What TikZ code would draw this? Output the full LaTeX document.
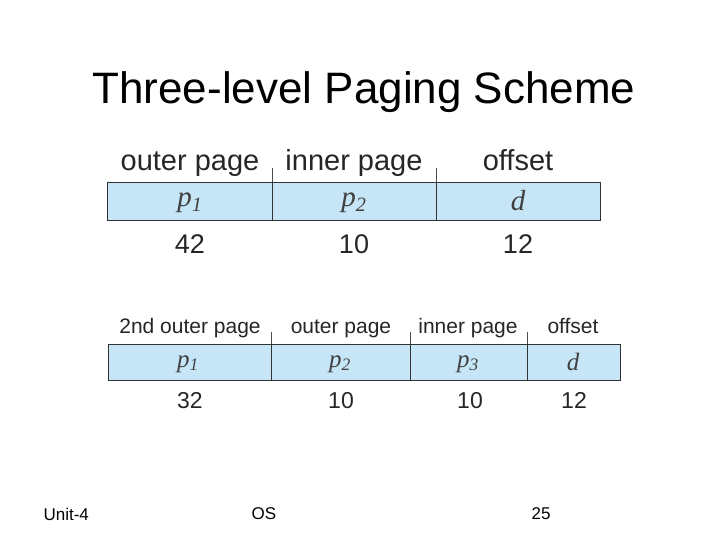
\documentclass[tikz,border=0pt]{standalone}
\usepackage{fontspec}
\setmainfont{Liberation Sans}
\newfontfamily\serifit{Liberation Serif}
\definecolor{cellblue}{HTML}{C6E6F7}
\begin{document}
\begin{tikzpicture}[x=1pt,y=-1pt,
  cell/.style={draw=black!80,line width=1.2pt,fill=cellblue,minimum height=38pt,inner sep=0pt,anchor=north west},
  labA/.style={font=\fontsize{29}{32}\selectfont,text=black!85,anchor=base},
  labB/.style={font=\fontsize{21}{24}\selectfont,text=black!85,anchor=base},
  numA/.style={font=\fontsize{27}{30}\selectfont,text=black!85,anchor=base},
  numB/.style={font=\fontsize{23}{26}\selectfont,text=black!85,anchor=base},
  varA/.style={font=\fontsize{29}{30}\serifit\itshape,text=black!75},
  varB/.style={font=\fontsize{25}{26}\serifit\itshape,text=black!75},
  tick/.style={draw=black!70,line width=0.8pt}]
\useasboundingbox (0,0) rectangle (728,546);
\node[font=\fontsize{44}{48}\selectfont] (title) at (364,92) {Three-level Paging Scheme};
% top
\node[cell,minimum width=165pt] (a1) at (107,182) {};
\node[cell,minimum width=164pt] (a2) at (272,182) {};
\node[cell,minimum width=164pt] (a3) at (436,182) {};
\draw[tick] (a2.north west) -- ++(0,-14);
\draw[tick] (a3.north west) -- ++(0,-14);
\node[varA] (v1) at (190,203) {p\textsubscript{1}};
\node[varA] (v2) at (354,203) {p\textsubscript{2}};
\node[varA] (v3) at (518,201) {d};
\node[labA] (l1) at (190,170) {outer page};
\node[labA] (l2) at (354,170) {inner page};
\node[labA] (l3) at (518,170) {offset};
\node[numA] (n1) at (190,253) {42};
\node[numA] (n2) at (354,253) {10};
\node[numA] (n3) at (518,253) {12};
% bottom
\node[cell,minimum width=163pt,minimum height=36pt] (b1) at (108,344) {};
\node[cell,minimum width=139pt,minimum height=36pt] (b2) at (271,344) {};
\node[cell,minimum width=117pt,minimum height=36pt] (b3) at (410,344) {};
\node[cell,minimum width=93pt,minimum height=36pt] (b4) at (527,344) {};
\draw[tick] (b2.north west) -- ++(0,-12);
\draw[tick] (b3.north west) -- ++(0,-12);
\draw[tick] (b4.north west) -- ++(0,-12);
\node[varB] (w1) at (188,364) {p\textsubscript{1}};
\node[varB] (w2) at (340,364) {p\textsubscript{2}};
\node[varB] (w3) at (468,364) {p\textsubscript{3}};
\node[varB] (w4) at (573,362) {d};
\node[labB] (m1) at (190,333) {2nd outer page};
\node[labB] (m2) at (341,333) {outer page};
\node[labB] (m3) at (468,333) {inner page};
\node[labB] (m4) at (573,333) {offset};
\node[numB] (k1) at (190,408) {32};
\node[numB] (k2) at (341,408) {10};
\node[numB] (k3) at (470,408) {10};
\node[numB] (k4) at (574,408) {12};
% footer
\node[font=\fontsize{17}{19}\selectfont,anchor=west] (f1) at (40,514) {Unit-4};
\node[font=\fontsize{17}{19}\selectfont] (f2) at (264,514) {OS};
\node[font=\fontsize{17}{19}\selectfont] (f3) at (541,514) {25};
\end{tikzpicture}
\end{document}
